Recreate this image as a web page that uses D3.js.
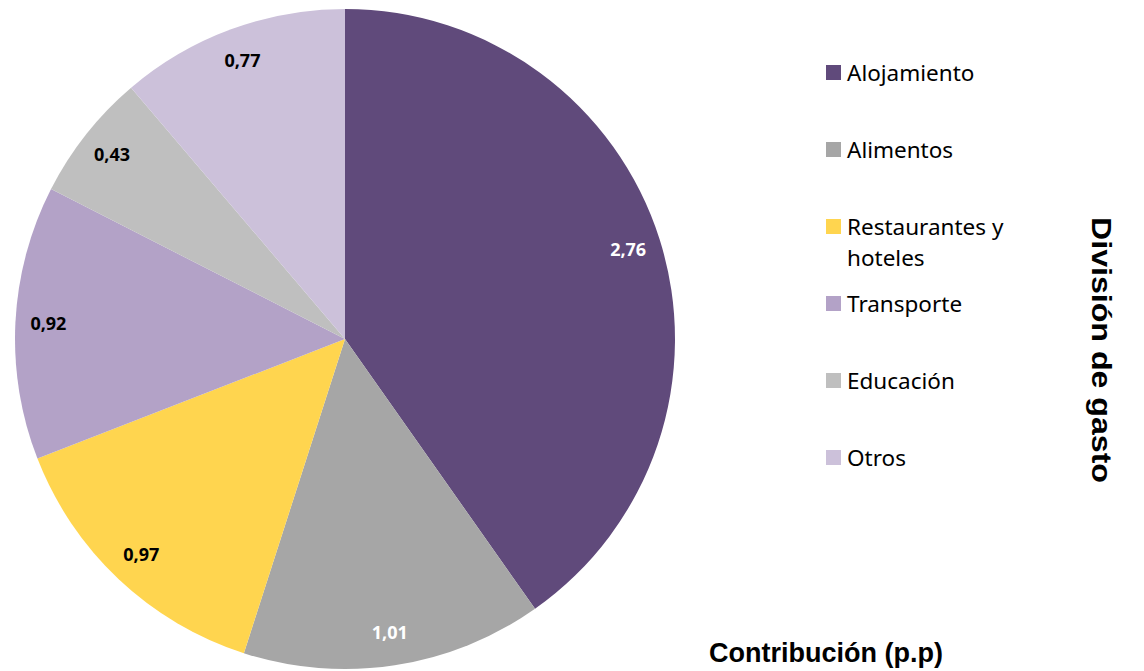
<!DOCTYPE html>
<html>
<head>
<meta charset="utf-8">
<script src="https://cdn.jsdelivr.net/npm/d3@7"></script>
<style>
  body { margin: 0; background: #fff; }
</style>
</head>
<body>
<div id="chart"></div>
<script>
  let categories = ['Alojamiento', 'Alimentos', 'Restaurantes y hoteles', 'Transporte', 'Educación', 'Otros'];
  let values = [2.76, 1.01, 0.97, 0.92, 0.43, 0.77];
  let labels = ['2,76', '1,01', '0,97', '0,92', '0,43', '0,77'];
  let colors = ['#604a7b', '#a6a6a6', '#ffd54f', '#b3a2c7', '#bfbfbf', '#ccc1da'];
  let labelColors = ['#fff', '#fff', '#000', '#000', '#000', '#000'];

  let width = 1144;
  let height = 671;
  let radius = 330;
  let cx = 345;
  let cy = 339;

  let data = categories.map((c, i) => ({ name: c, value: values[i], label: labels[i], i: i }));

  let svg = d3
    .select('#chart')
    .append('svg')
    .attr('width', width)
    .attr('height', height);

  let pie = d3.pie().sort(null).value((d) => d.value);
  let arc = d3.arc().innerRadius(0).outerRadius(radius);
  let labelArc = d3.arc().innerRadius(radius * 0.9).outerRadius(radius * 0.9);

  let g = svg.append('g').attr('transform', `translate(${cx}, ${cy})`);

  g.selectAll('path')
    .data(pie(data))
    .enter()
    .append('path')
    .attr('d', arc)
    .attr('fill', (d) => colors[d.data.i]);

  g.selectAll('text')
    .data(pie(data))
    .enter()
    .append('text')
    .attr('transform', (d) => `translate(${labelArc.centroid(d)})`)
    .attr('text-anchor', 'middle')
    .attr('dy', '0.35em')
    .attr('font-family', '"Open Sans", "Noto Sans", sans-serif')
    .attr('font-weight', 'bold')
    .attr('font-size', 18)
    .attr('fill', (d) => labelColors[d.data.i])
    .text((d) => d.data.label);

  // legend
  let legend = svg.append('g').attr('transform', 'translate(826, 0)');
  let legendY = [73, 150, 227, 304, 381, 458];

  let items = legend
    .selectAll('g')
    .data(data)
    .enter()
    .append('g')
    .attr('transform', (d) => `translate(0, ${legendY[d.i]})`);

  items
    .append('rect')
    .attr('x', 0)
    .attr('y', -8)
    .attr('width', 15)
    .attr('height', 15)
    .attr('fill', (d) => colors[d.i]);

  items.each(function (d) {
    let t = d3
      .select(this)
      .append('text')
      .attr('x', 21)
      .attr('y', 0)
      .attr('dy', '0.35em')
      .attr('font-family', '"Noto Sans", "Open Sans", sans-serif')
      .attr('font-size', 22.5)
      .attr('fill', '#000');
    if (d.name === 'Restaurantes y hoteles') {
      t.append('tspan').attr('x', 21).text('Restaurantes y');
      t.append('tspan').attr('x', 21).attr('dy', 31).text('hoteles');
    } else {
      t.text(d.name);
    }
  });

  svg
    .append('text')
    .attr('transform', 'translate(1092, 350) rotate(90)')
    .attr('text-anchor', 'middle')
    .attr('font-family', '"Liberation Sans", Arial, sans-serif')
    .attr('font-weight', 'bold')
    .attr('font-size', 28)
    .attr('textLength', 266)
    .attr('lengthAdjust', 'spacingAndGlyphs')
    .text('División de gasto');

  svg
    .append('text')
    .attr('x', 826)
    .attr('y', 662)
    .attr('text-anchor', 'middle')
    .attr('font-family', '"Liberation Sans", Arial, sans-serif')
    .attr('font-weight', 'bold')
    .attr('font-size', 27)
    .text('Contribución (p.p)');
</script>
</body>
</html>
